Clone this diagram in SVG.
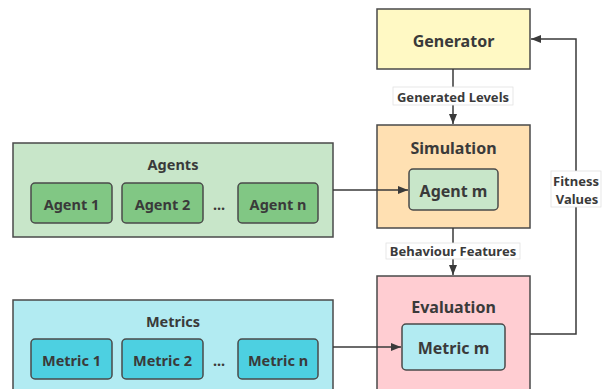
<svg xmlns="http://www.w3.org/2000/svg" width="616" height="389" viewBox="0 0 616 389">
<style>
text{font-family:"Noto Sans","Open Sans","DejaVu Sans",sans-serif;font-weight:bold;fill:#3a3a3a;text-anchor:middle;dominant-baseline:central}
.box{stroke:#4a4a4a;stroke-width:1.5}
.t{font-size:16px}
.s{font-size:14.5px}
.l{font-size:13px}
.c{fill:none;stroke:#3a3a3a;stroke-width:1.5}
.lb{fill:#fff;stroke:#e2e2e2;stroke-width:0.8}
</style>
<defs>
<marker id="ah" viewBox="0 0 10 10" refX="10" refY="5" markerWidth="10" markerHeight="10" markerUnits="userSpaceOnUse" orient="auto">
<path d="M0,1 L10,5 L0,9 Z" fill="#3a3a3a"/>
</marker>
</defs>
<g id="generator">
<rect class="box" x="377" y="9" width="153" height="60" fill="#fff9c4"/>
<text class="t" x="453.5" y="41">Generator</text>
</g>
<g id="simulation">
<rect class="box" x="377" y="125" width="153" height="103" fill="#ffe0b2"/>
<text class="t" x="453.5" y="148">Simulation</text>
</g>
<g id="agent-m">
<rect class="box" x="409" y="169" width="89" height="41" rx="4" fill="#c8e6c9"/>
<text class="t" x="453.5" y="191">Agent m</text>
</g>
<g id="evaluation">
<rect class="box" x="377" y="276" width="153" height="120" fill="#ffcdd2"/>
<text class="t" x="453.5" y="307">Evaluation</text>
</g>
<g id="metric-m">
<rect class="box" x="402" y="324" width="103" height="46" rx="4" fill="#b2ebf2"/>
<text class="t" x="453.5" y="348">Metric m</text>
</g>
<g id="agents">
<rect class="box" x="13" y="143" width="320" height="94" fill="#c8e6c9"/>
<text class="s" x="173" y="164">Agents</text>
</g>
<g id="agent-1">
<rect class="box" x="31" y="183" width="81" height="40" rx="4" fill="#81c784"/>
<text class="s" x="71.5" y="204">Agent 1</text>
</g>
<g id="agent-2">
<rect class="box" x="122" y="183" width="81" height="40" rx="4" fill="#81c784"/>
<text class="s" x="162.5" y="204">Agent 2</text>
</g>
<text class="s" x="219" y="204">...</text>
<g id="agent-n">
<rect class="box" x="238" y="183" width="80" height="40" rx="4" fill="#81c784"/>
<text class="s" x="278" y="204">Agent n</text>
</g>
<g id="metrics">
<rect class="box" x="13" y="300" width="320" height="96" fill="#b2ebf2"/>
<text class="s" x="173" y="321">Metrics</text>
</g>
<g id="metric-1">
<rect class="box" x="31" y="339" width="81" height="40" rx="4" fill="#4dd0e1"/>
<text class="s" x="71.5" y="360">Metric 1</text>
</g>
<g id="metric-2">
<rect class="box" x="122" y="339" width="81" height="40" rx="4" fill="#4dd0e1"/>
<text class="s" x="162.5" y="360">Metric 2</text>
</g>
<text class="s" x="219" y="360">...</text>
<g id="metric-n">
<rect class="box" x="238" y="339" width="80" height="40" rx="4" fill="#4dd0e1"/>
<text class="s" x="278" y="360">Metric n</text>
</g>
<g id="connectors">
<path class="c" d="M453,69 V124" marker-end="url(#ah)"/>
<path class="c" d="M453,228 V275" marker-end="url(#ah)"/>
<path class="c" d="M333,190 H408" marker-end="url(#ah)"/>
<path class="c" d="M333,347 H401" marker-end="url(#ah)"/>
<path class="c" d="M530,334 H576 V39 H531" marker-end="url(#ah)"/>
<rect class="lb" x="393" y="87" width="120" height="18"/>
<text class="l" x="453" y="96.5">Generated Levels</text>
<rect class="lb" x="386" y="243" width="134" height="16"/>
<text class="l" x="453" y="251">Behaviour Features</text>
<rect class="lb" x="551" y="171" width="50" height="36"/>
<text class="l" x="576" y="180.5">Fitness</text>
<text class="l" x="577" y="198.5">Values</text>
</g>
</svg>
